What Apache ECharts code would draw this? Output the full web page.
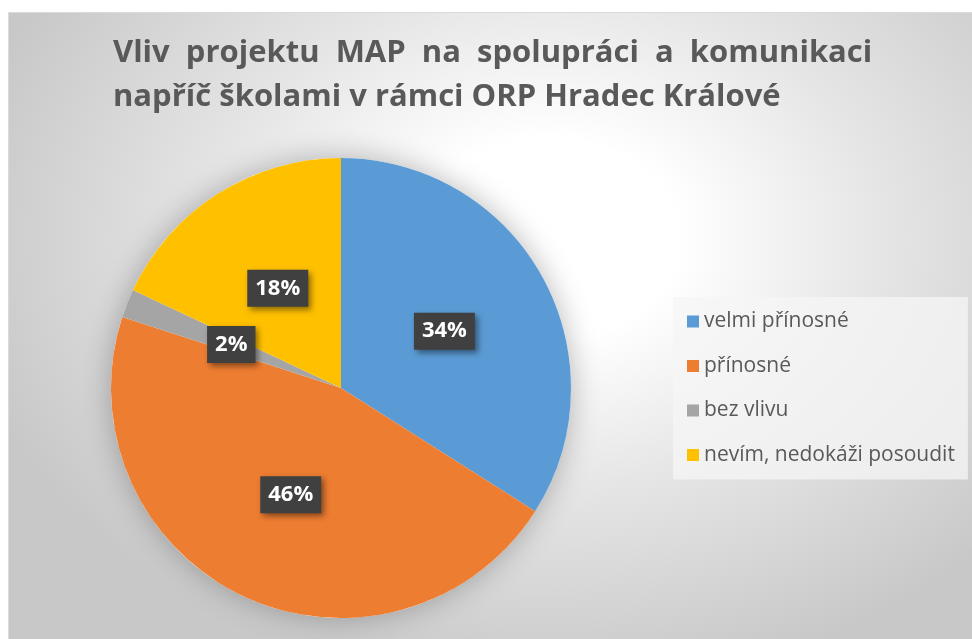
<!DOCTYPE html>
<html>
<head>
<meta charset="utf-8">
<script src="https://cdn.jsdelivr.net/npm/echarts@6/dist/echarts.min.js"></script>
<style>
  html, body { margin: 0; padding: 0; background: #fff; }
  #frame {
    position: absolute; left: 8px; top: 12px; width: 964px; height: 627px;
    border-top: 1px solid #dadada; border-left: 1px solid #dadada;
    box-sizing: border-box;
    background: radial-gradient(ellipse 62% 72% at 56% 36%, #ffffff 0%, #ffffff 22%, #e6e6e6 55%, #c8c8c8 100%);
  }
  #chart { position: absolute; left: 0; top: 0; width: 972px; height: 639px; }
</style>
</head>
<body>
<div id="frame"></div>
<div id="chart"></div>
<script>
// data
let categories = ['velmi přínosné', 'přínosné', 'bez vlivu', 'nevím, nedokáži posoudit'];
let values = [34, 46, 2, 18];
let colors = ['#5b9bd5', '#ed7d31', '#a5a5a5', '#ffc000'];
let titleLines = ['Vliv  projektu  MAP  na  spolupráci  a  komunikaci', 'napříč školami v rámci ORP Hradec Králové'];

let chart = echarts.init(document.getElementById('chart'));

let fontFamily = '"Open Sans", sans-serif';

let option = {
    backgroundColor: 'transparent',
    title: [{
        text: titleLines[0],
        left: 113,
        top: 38,
        padding: 0,
        textStyle: { fontFamily: fontFamily, fontSize: 31, fontWeight: 'bold', color: '#595959' }
    }, {
        text: titleLines[1],
        left: 113,
        top: 82,
        padding: 0,
        textStyle: { fontFamily: fontFamily, fontSize: 31, fontWeight: 'bold', color: '#595959' }
    }],
    legend: {
        orient: 'vertical',
        left: 673,
        top: 297,
        padding: [14, 13, 14, 14],
        itemWidth: 12,
        itemHeight: 12,
        itemGap: 23.5,
        icon: 'rect',
        backgroundColor: 'rgba(245,245,245,0.75)',
        data: categories,
        textStyle: { fontFamily: fontFamily, fontSize: 21, color: '#595959' }
    },
    series: [{
        // soft shadow behind the pie
        type: 'pie',
        center: [341, 388],
        radius: 230,
        silent: true,
        z: 1,
        label: { show: false },
        labelLine: { show: false },
        itemStyle: { color: '#ffffff', shadowBlur: 30, shadowColor: 'rgba(0,0,0,0.28)' },
        data: [{ value: 1, name: '' }]
    }, {
        type: 'pie',
        center: [341, 388],
        radius: 230,
        startAngle: 90,
        clockwise: true,
        z: 2,
        emphasis: { disabled: true },
        label: {
            show: true,
            position: 'inside',
            formatter: function (p) { return p.value + '%'; },
            fontFamily: fontFamily,
            fontSize: 22,
            fontWeight: 'bold',
            color: '#ffffff',
            backgroundColor: '#404040',
            padding: [8, 8, 7, 8],
            shadowColor: 'rgba(0,0,0,0.45)',
            shadowBlur: 6,
            shadowOffsetX: 3,
            shadowOffsetY: 3
        },
        labelLine: { show: false },
        data: categories.map((c, i) => ({ name: c, value: values[i], itemStyle: { color: colors[i] } }))
    }]
};
chart.setOption(option);
</script>
</body>
</html>
